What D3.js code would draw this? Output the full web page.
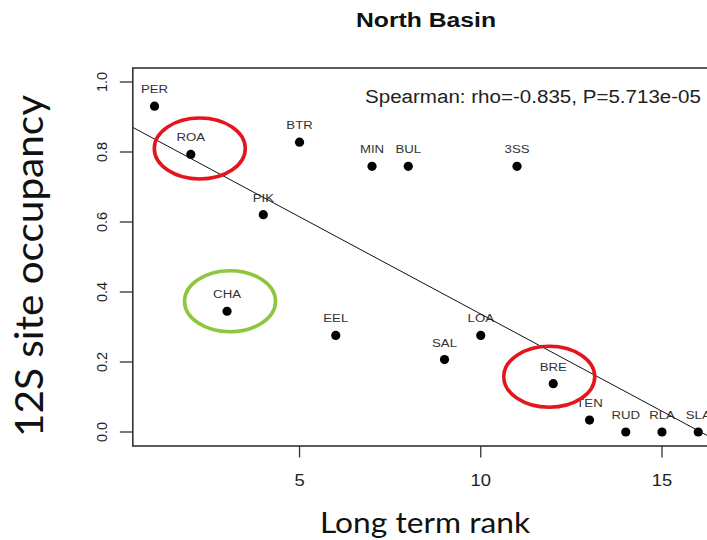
<!DOCTYPE html>
<html>
<head>
<meta charset="utf-8">
<script src="https://cdn.jsdelivr.net/npm/d3@7"></script>
<style>
  body { margin: 0; background: #fff; }
  svg { display: block; }
  .tick-lab { font-family: "Liberation Sans", Arial, sans-serif; fill: #222; }
  .pt-lab { font-family: "Liberation Sans", Arial, sans-serif; font-size: 11.5px; fill: #333; }
</style>
</head>
<body>
<div class="scatter"></div>
<script>
// site codes, long-term rank and 12S occupancy
var sites = ["PER", "ROA", "CHA", "PIK", "BTR", "EEL", "MIN", "BUL",
             "SAL", "LOA", "3SS", "BRE", "TEN", "RUD", "RLA", "SLA"];
var ranks = [1, 2, 3, 4, 5, 6, 7, 8, 9, 10, 11, 12, 13, 14, 15, 16];
var occupancy = [0.931, 0.793, 0.345, 0.621, 0.828, 0.276, 0.759, 0.759,
                 0.207, 0.276, 0.759, 0.138, 0.034, 0, 0, 0];

var xTicks = [5, 10, 15];
var yTicks = [0, 0.2, 0.4, 0.6, 0.8, 1.0];

var titleText = "North Basin";
var xLabel = "Long term rank";
var yLabel = "12S site occupancy";
var statText = "Spearman: rho=-0.835, P=5.713e-05";

// sites circled on the figure
var circledRed = ["ROA", "BRE"];
var circledGreen = ["CHA"];

var width = 707, height = 540;

var x = d3.scaleLinear().domain([0.4, 16.6]).range([132.8, 720]);
var y = d3.scaleLinear().domain([-0.04, 1.04]).range([446, 68]);

var svg = d3.select(".scatter").append("svg")
    .attr("width", width)
    .attr("height", height);

var data = sites.map(function (s, i) {
  return { site: s, rank: ranks[i], occ: occupancy[i] };
});

// least squares fit (abline of lm)
var mx = d3.mean(data, function (d) { return d.rank; }),
    my = d3.mean(data, function (d) { return d.occ; });
var sxy = d3.sum(data, function (d) { return (d.rank - mx) * (d.occ - my); }),
    sxx = d3.sum(data, function (d) { return (d.rank - mx) * (d.rank - mx); });
var slope = sxy / sxx, icept = my - slope * mx;

svg.append("clipPath").attr("id", "plotclip")
  .append("rect")
    .attr("x", x.range()[0]).attr("y", y.range()[1])
    .attr("width", x.range()[1] - x.range()[0])
    .attr("height", y.range()[0] - y.range()[1]);

// points + labels
var pts = svg.append("g");
pts.selectAll("circle")
  .data(data)
  .enter().append("circle")
    .attr("cx", function (d) { return x(d.rank); })
    .attr("cy", function (d) { return y(d.occ); })
    .attr("r", 4.6)
    .style("fill", "#000");

pts.selectAll("text")
  .data(data)
  .enter().append("text")
    .attr("class", "pt-lab")
    .attr("transform", function (d) {
      return "translate(" + x(d.rank) + "," + (y(d.occ) - 13) + ") scale(1.15,1)";
    })
    .style("text-anchor", "middle")
    .text(function (d) { return d.site; });

// regression line
var xd = x.domain();
svg.append("line")
  .attr("clip-path", "url(#plotclip)")
  .attr("x1", x(xd[0])).attr("y1", y(icept + slope * xd[0]))
  .attr("x2", x(xd[1])).attr("y2", y(icept + slope * xd[1]))
  .style("stroke", "#111")
  .style("stroke-width", 1)
  .style("fill", "none");

// box
svg.append("rect")
  .attr("x", x.range()[0]).attr("y", y.range()[1])
  .attr("width", x.range()[1] - x.range()[0])
  .attr("height", y.range()[0] - y.range()[1])
  .style("fill", "none")
  .style("stroke", "#333")
  .style("stroke-width", 1.6);

// x axis
var xAxis = svg.append("g");
xAxis.selectAll("line")
  .data(xTicks)
  .enter().append("line")
    .attr("x1", function (d) { return x(d); }).attr("x2", function (d) { return x(d); })
    .attr("y1", y.range()[0]).attr("y2", y.range()[0] + 11.5)
    .style("stroke", "#333").style("stroke-width", 1.3);
xAxis.selectAll("text")
  .data(xTicks)
  .enter().append("text")
    .attr("class", "tick-lab")
    .attr("transform", function (d) { return "translate(" + x(d) + ",486) scale(1.15,1)"; })
    .style("font-size", "16px")
    .style("text-anchor", "middle")
    .text(function (d) { return d; });

// y axis
var yAxis = svg.append("g");
yAxis.selectAll("line")
  .data(yTicks)
  .enter().append("line")
    .attr("x1", x.range()[0]).attr("x2", x.range()[0] - 13)
    .attr("y1", function (d) { return y(d); }).attr("y2", function (d) { return y(d); })
    .style("stroke", "#333").style("stroke-width", 1.3);
yAxis.selectAll("text")
  .data(yTicks)
  .enter().append("text")
    .attr("class", "tick-lab")
    .attr("transform", function (d) { return "translate(107," + y(d) + ") rotate(-90)"; })
    .style("font-size", "14.5px")
    .style("text-anchor", "middle")
    .text(function (d) { return d3.format(".1f")(d); });

// highlight ellipses
var rings = [];
circledRed.forEach(function (s) { rings.push({ site: s, col: "#e3161d" }); });
circledGreen.forEach(function (s) { rings.push({ site: s, col: "#8dc63f" }); });
var ringShift = { ROA: [9, -6], CHA: [3, -10], BRE: [-4, -7] };

svg.append("g").selectAll("ellipse")
  .data(rings)
  .enter().append("ellipse")
    .attr("cx", function (d) {
      var p = data[sites.indexOf(d.site)];
      return x(p.rank) + ringShift[d.site][0];
    })
    .attr("cy", function (d) {
      var p = data[sites.indexOf(d.site)];
      return y(p.occ) + ringShift[d.site][1];
    })
    .attr("rx", 45.5)
    .attr("ry", 30.5)
    .style("fill", "none")
    .style("stroke", function (d) { return d.col; })
    .style("stroke-width", 3.6);

// texts
svg.append("text")
  .attr("x", 426).attr("y", 26.5)
  .attr("textLength", 140).attr("lengthAdjust", "spacingAndGlyphs")
  .style("font-family", "'Liberation Sans', Arial, sans-serif")
  .style("font-weight", "bold")
  .style("font-size", "20px")
  .style("fill", "#111")
  .style("text-anchor", "middle")
  .text(titleText);

svg.append("text")
  .attr("x", 365).attr("y", 102.5)
  .attr("textLength", 336).attr("lengthAdjust", "spacingAndGlyphs")
  .style("font-family", "'Liberation Sans', Arial, sans-serif")
  .style("font-size", "18px")
  .style("fill", "#222")
  .text(statText);

svg.append("text")
  .attr("x", 425).attr("y", 533)
  .attr("textLength", 210).attr("lengthAdjust", "spacingAndGlyphs")
  .style("font-family", "Lato, 'Open Sans', sans-serif")
  .style("font-size", "28px")
  .style("fill", "#111")
  .style("text-anchor", "middle")
  .text(xLabel);

svg.append("text")
  .attr("transform", "translate(43,266) rotate(-90)")
  .attr("textLength", 342).attr("lengthAdjust", "spacingAndGlyphs")
  .style("font-family", "Lato, 'Open Sans', sans-serif")
  .style("font-size", "39px")
  .style("fill", "#111")
  .style("text-anchor", "middle")
  .text(yLabel);
</script>
</body>
</html>
